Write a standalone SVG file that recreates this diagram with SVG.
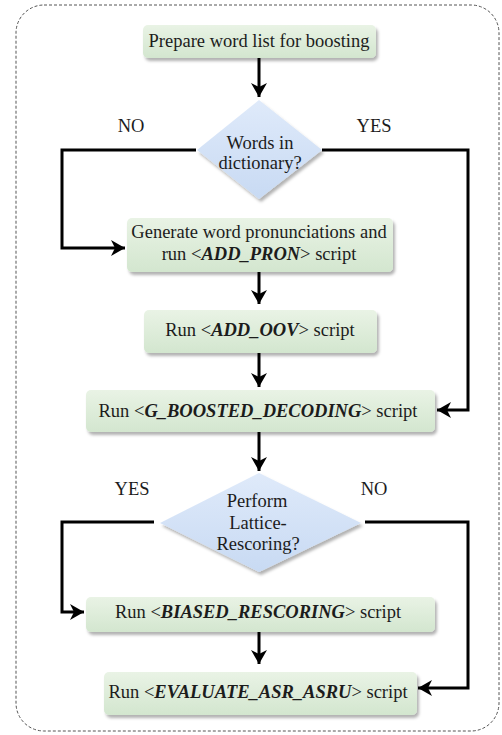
<svg xmlns="http://www.w3.org/2000/svg" width="502" height="735" viewBox="0 0 502 735" font-family="'Liberation Serif', 'DejaVu Serif', serif">
<style>
text{font-family:'Liberation Serif','DejaVu Serif',serif;font-size:18.5px;fill:#1c1c1c;text-anchor:middle}
.b{font-style:italic;font-weight:bold}
.box{fill:url(#gg);stroke:none;filter:url(#sh)}
.dia{fill:url(#bg);stroke:none;filter:url(#sh)}
.con{fill:none;stroke:#000;stroke-width:3;stroke-linejoin:miter}
</style>
<defs>
<linearGradient id="gg" x1="0" y1="0" x2="0" y2="1">
<stop offset="0" stop-color="#e9f3e5"/><stop offset="1" stop-color="#d3e6cf"/>
</linearGradient>
<linearGradient id="bg" x1="0" y1="0" x2="0" y2="1">
<stop offset="0" stop-color="#dfeafa"/><stop offset="1" stop-color="#c8daf3"/>
</linearGradient>
<filter id="sh" x="-10%" y="-20%" width="130%" height="150%">
<feDropShadow dx="2" dy="3" stdDeviation="1.5" flood-color="#000" flood-opacity="0.3"/>
</filter>
<marker id="ah" markerUnits="userSpaceOnUse" markerWidth="20" markerHeight="20" viewBox="0 0 20 20" refX="16" refY="10" orient="auto">
<path d="M2,2 L16,10 L2,18 L6,10 Z" fill="#000"/>
</marker>
</defs>
<rect x="16" y="5" width="483" height="726" rx="28" fill="#fff" stroke="#555" stroke-width="1" stroke-dasharray="3,2"/>
<g id="connectors">
<path class="con" d="M259,58 V97" marker-end="url(#ah)"/>
<path class="con" d="M196,150 H62 V248 H125" marker-end="url(#ah)"/>
<path class="con" d="M322,150 H468 V410 H437" marker-end="url(#ah)"/>
<path class="con" d="M259,272 V304" marker-end="url(#ah)"/>
<path class="con" d="M259,353 V387" marker-end="url(#ah)"/>
<path class="con" d="M259,432 V471" marker-end="url(#ah)"/>
<path class="con" d="M154,522 H62 V612 H84" marker-end="url(#ah)"/>
<path class="con" d="M365,522 H468 V688 H418" marker-end="url(#ah)"/>
<path class="con" d="M259,632 V664" marker-end="url(#ah)"/>
</g>
<g id="lbl_no1"><text x="131" y="132">NO</text></g>
<g id="lbl_yes1"><text x="374" y="132">YES</text></g>
<g id="lbl_yes2"><text x="132" y="495">YES</text></g>
<g id="lbl_no2"><text x="374" y="495">NO</text></g>
<g id="n1"><rect class="box" x="143" y="25" width="233" height="33" rx="5"/><text x="259" y="47">Prepare word list for boosting</text></g>
<g id="n2"><path class="dia" d="M259,100 L322,150 L259,199 L197,150 Z"/><text x="260" y="149">Words in</text><text x="260" y="169">dictionary?</text></g>
<g id="n3"><rect class="box" x="127" y="218" width="266" height="54" rx="5"/><text x="259" y="238">Generate word pronunciations and</text><text x="259" y="260">run &lt;<tspan class="b">ADD_PRON</tspan>&gt; script</text></g>
<g id="n4"><rect class="box" x="144" y="310" width="233" height="43" rx="5"/><text x="260" y="336">Run &lt;<tspan class="b">ADD_OOV</tspan>&gt; script</text></g>
<g id="n5"><rect class="box" x="86" y="390" width="349" height="42" rx="5"/><text x="258" y="417">Run &lt;<tspan class="b">G_BOOSTED_DECODING</tspan>&gt; script</text></g>
<g id="n6"><path class="dia" d="M259,473 L361,523 L259,572 L160,523 Z"/><text x="257" y="507">Perform</text><text x="258" y="529">Lattice-</text><text x="258" y="550">Rescoring?</text></g>
<g id="n7"><rect class="box" x="86" y="597" width="349" height="35" rx="5"/><text x="258" y="618">Run &lt;<tspan class="b">BIASED_RESCORING</tspan>&gt; script</text></g>
<g id="n8"><rect class="box" x="104" y="672" width="313" height="43" rx="5"/><text x="258" y="698">Run &lt;<tspan class="b">EVALUATE_ASR_ASRU</tspan>&gt; script</text></g>
</svg>
